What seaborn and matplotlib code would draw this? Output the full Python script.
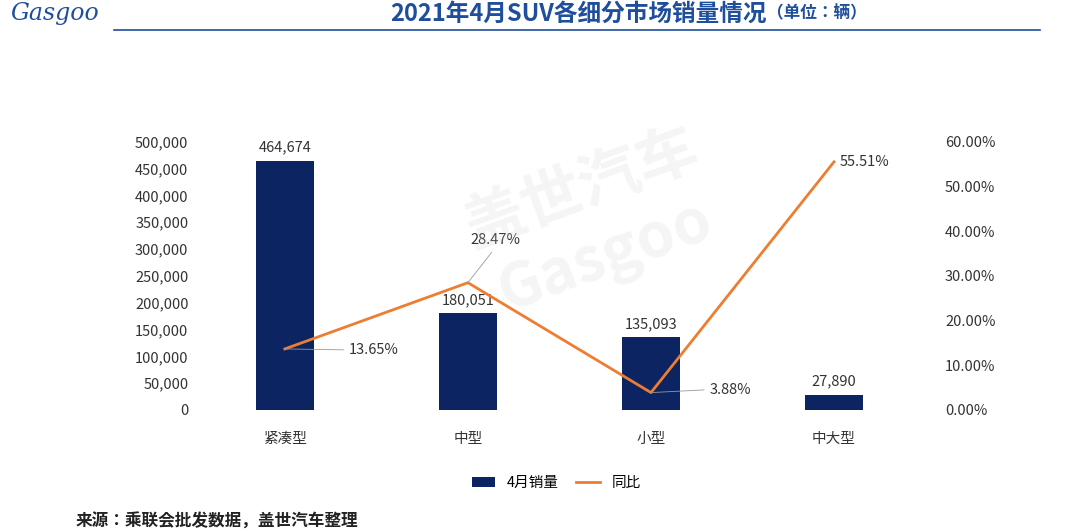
"""2021年4月SUV各细分市场销量情况 —— 柱线组合图。"""

import matplotlib.pyplot as plt
import matplotlib.ticker as mtick
from matplotlib import font_manager
import pandas as pd
import seaborn as sns

# 确保 CJK 字体已注册
for f in font_manager.findSystemFonts():
    if "CJK" in f or "cjk" in f.lower():
        try:
            font_manager.fontManager.addfont(f)
        except Exception:
            pass
cjk_names = sorted({f.name for f in font_manager.fontManager.ttflist if "CJK" in f.name})
FONT = "Noto Sans CJK SC" if "Noto Sans CJK SC" in cjk_names else (cjk_names[0] if cjk_names else "DejaVu Sans")
plt.rcParams["font.family"] = "sans-serif"
plt.rcParams["font.sans-serif"] = [FONT, "DejaVu Sans"]

categories = ["紧凑型", "中型", "小型", "中大型"]
sales = [464674, 180051, 135093, 27890]
yoy = [0.1365, 0.2847, 0.0388, 0.5551]

NAVY = "#0c2461"
ORANGE = "#ed7d31"

df = pd.DataFrame({"cat": categories, "sales": sales, "yoy": yoy})

fig = plt.figure(figsize=(10.8, 5.31), dpi=100)
ax = fig.add_axes([0.179, 0.228, 0.678, 0.505])
sns.barplot(data=df, x="cat", y="sales", color=NAVY, width=0.32, ax=ax,
            saturation=1, label="4月销量")
ax.set_ylim(0, 500000)
ax.set_xlim(-0.5, 3.5)
ax.yaxis.set_major_locator(mtick.MultipleLocator(50000))
ax.yaxis.set_major_formatter(mtick.FuncFormatter(lambda v, p: f"{v:,.0f}"))
ax.set_xlabel("")
ax.set_ylabel("")
for s in ax.spines.values():
    s.set_visible(False)
ax.tick_params(length=0, labelsize=10.5, colors="#333333")
ax.tick_params(axis="x", pad=16)
for i, v in enumerate(sales):
    ax.text(i, v + 12000, f"{v:,}", ha="center", va="bottom", fontsize=10.5, color="#333333")

ax2 = ax.twinx()
sns.lineplot(x=list(range(len(yoy))), y=yoy, color=ORANGE, linewidth=2, ax=ax2, label="同比")
ax2.set_ylim(0, 0.6)
ax2.yaxis.set_major_locator(mtick.MultipleLocator(0.1))
ax2.yaxis.set_major_formatter(mtick.PercentFormatter(1, decimals=2))
for s in ax2.spines.values():
    s.set_visible(False)
ax2.tick_params(length=0, labelsize=10.5, colors="#333333", pad=14)
ax2.set_ylabel("")

h1, l1 = ax.get_legend_handles_labels()
h2, l2 = ax2.get_legend_handles_labels()
for a in (ax, ax2):
    if a.get_legend() is not None:
        a.get_legend().remove()

offsets = [(0.35, -0.002), (0.15, 0.08), (0.32, 0.006), (0.32, 0.0)]
for i, (v, (dx, dy)) in enumerate(zip(yoy, offsets)):
    tx, ty = i + dx, v + dy
    if i == 3:
        ax2.text(i + 0.03, v, f"{v:.2%}", ha="left", va="center", fontsize=10.5, color="#333333")
        continue
    if i == 1:
        ax2.plot([i, tx - 0.02], [v, ty - 0.012], color="#999999", linewidth=0.6)
        ax2.text(tx, ty, f"{v:.2%}", ha="center", va="bottom", fontsize=10.5, color="#333333")
        continue
    ax2.plot([i, tx - 0.03], [v, ty], color="#999999", linewidth=0.6)
    ax2.text(tx, ty, f"{v:.2%}", ha="left", va="center", fontsize=10.5, color="#333333")

fig.legend(h1 + h2, l1 + l2, loc="center", bbox_to_anchor=(0.515, 0.09), ncol=2,
           frameon=False, fontsize=10.5, handlelength=1.6, columnspacing=1.2)

# 水印
fig.text(0.55, 0.58, "盖世汽车\nGasgoo", ha="center", va="center", fontsize=44,
         color="#cccccc", alpha=0.2, rotation=20, fontweight="bold")

# 标题与页眉
fig.text(0.71, 0.975, "2021年4月SUV各细分市场销量情况", ha="right", va="center",
         fontsize=17, fontweight="bold", color="#1f4e9c")
fig.text(0.71, 0.975, "（单位：辆）", ha="left", va="center", fontsize=12,
         fontweight="bold", color="#1f4e9c")
fig.add_artist(plt.Line2D([0.106, 0.963], [0.943, 0.943], color="#1f4e9c", linewidth=1.2))
fig.text(0.01, 0.975, "Gasgoo", ha="left", va="center", fontsize=17, color="#1f4e9c",
         style="italic", fontfamily="DejaVu Serif")
fig.text(0.07, 0.018, "来源：乘联会批发数据，盖世汽车整理", ha="left", va="center",
         fontsize=12, fontweight="bold", color="#222222")

fig.savefig("out.png", dpi=100)
